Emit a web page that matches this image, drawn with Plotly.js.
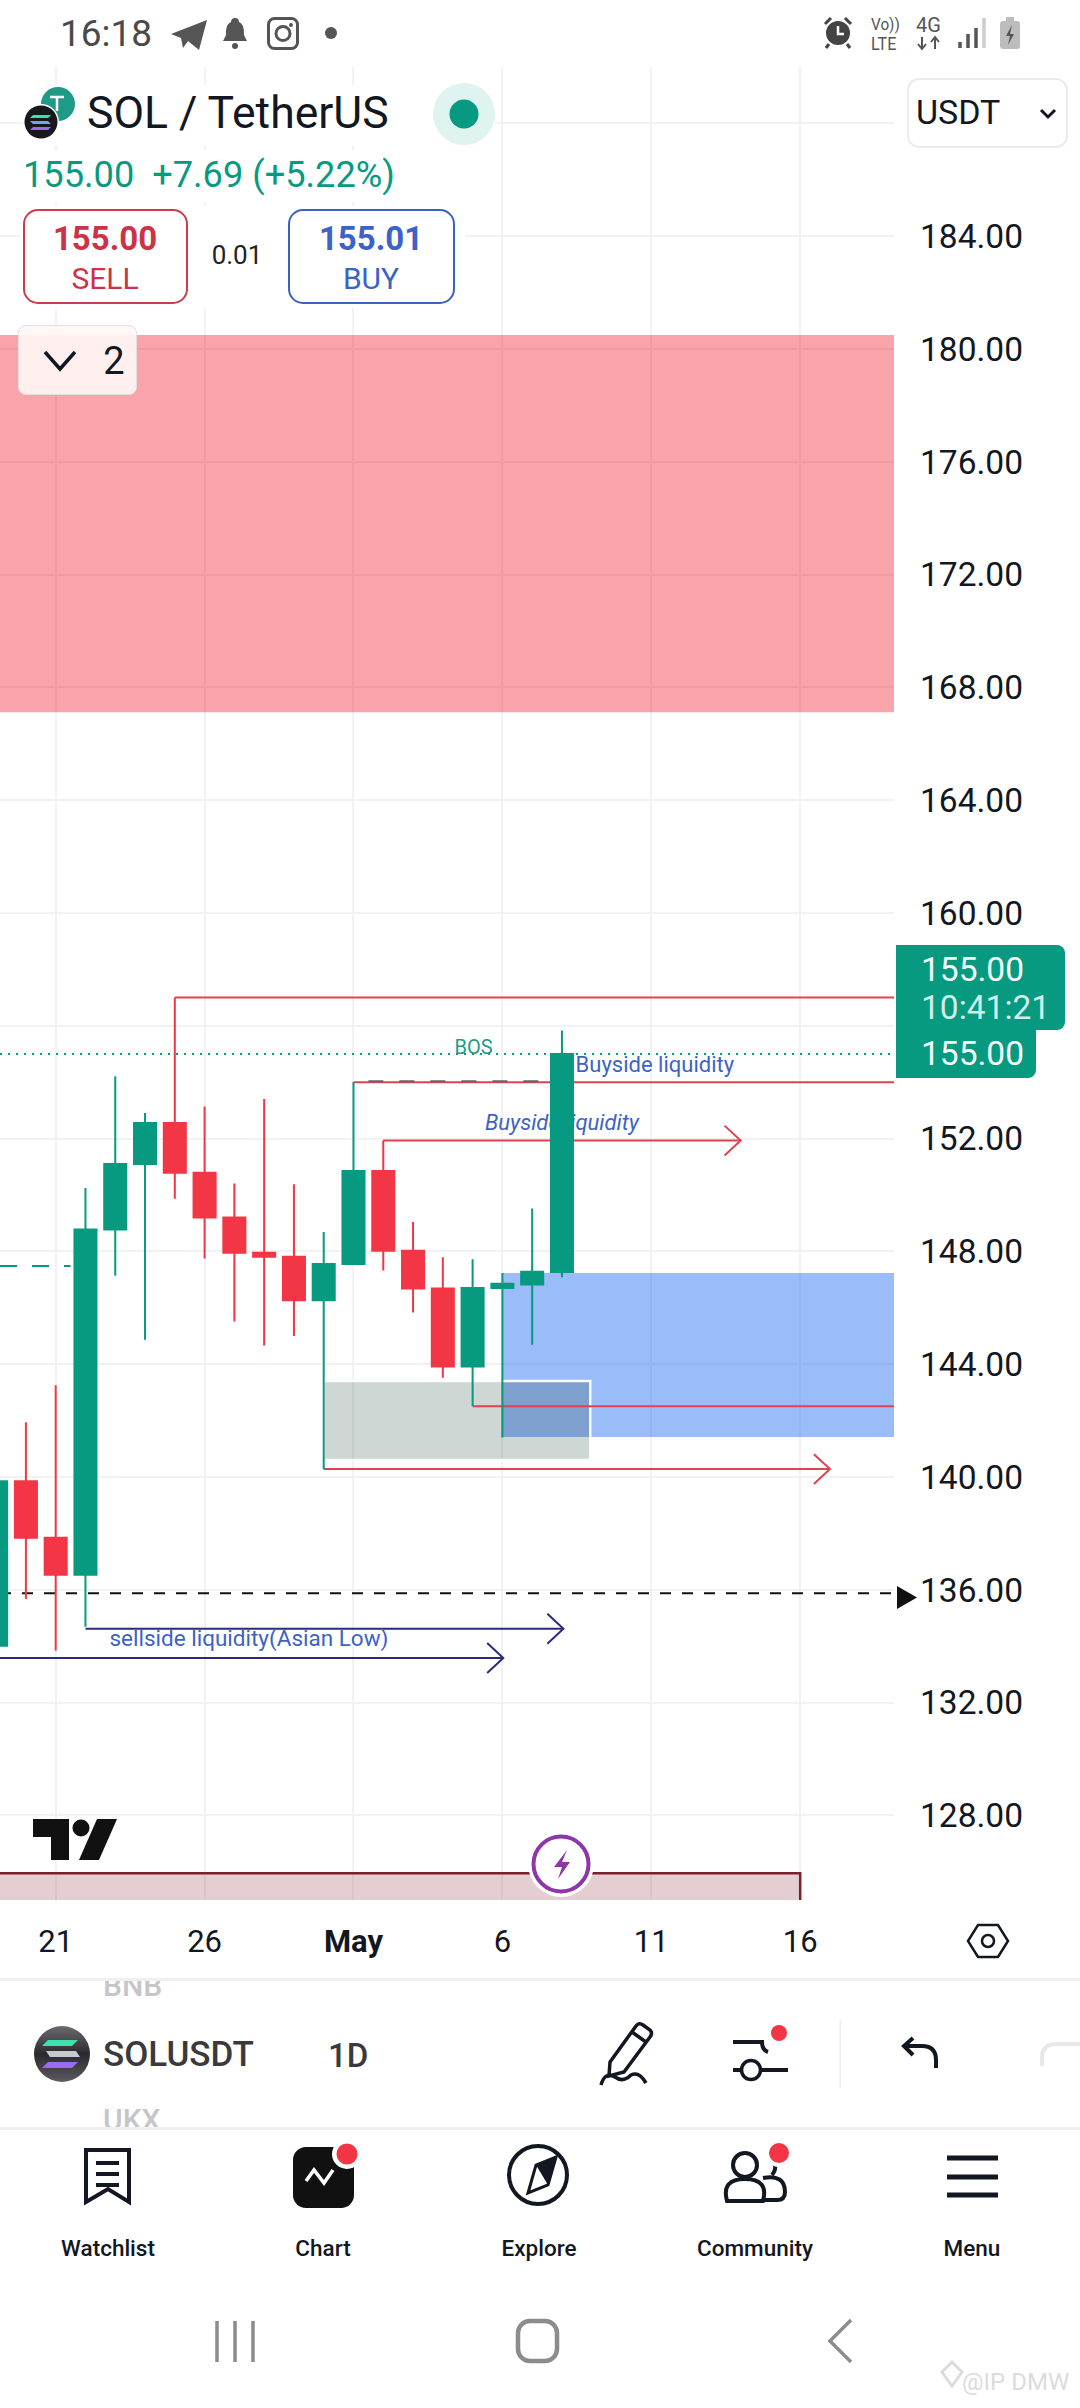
<!DOCTYPE html>
<html><head><meta charset="utf-8">
<script src="https://cdn.plot.ly/plotly-3.0.1.min.js"></script>
<style>
html,body{margin:0;padding:0;background:#fff;width:1080px;height:2408px;overflow:hidden;font-family:Roboto,sans-serif}
#chart{position:absolute;left:0;top:0;width:1080px;height:2408px}
#ui{position:absolute;left:0;top:0;width:1080px;height:2408px;pointer-events:none}
#ui svg{position:absolute;left:0;top:0}
.t{position:absolute;white-space:nowrap;line-height:1;transform:translateY(-50%)}
.c{transform:translate(-50%,-50%)}
.box{position:absolute;box-sizing:border-box}
</style></head><body>
<div id="chart"></div><div id="ui"></div>
<script>
const dates=['2025-04-19','2025-04-20','2025-04-21','2025-04-22','2025-04-23','2025-04-24','2025-04-25','2025-04-26','2025-04-27','2025-04-28','2025-04-29','2025-04-30','2025-05-01','2025-05-02','2025-05-03','2025-05-04','2025-05-05','2025-05-06','2025-05-07','2025-05-08'];
const opens =[134.02,139.85,137.85,136.53,148.78,151.10,152.55,150.79,149.20,147.95,147.81,146.27,147.55,150.85,148.02,146.68,143.92,146.70,146.83,147.27];
const highs =[140.50,141.94,143.25,150.25,154.21,152.91,157.00,153.14,150.41,153.40,150.38,148.69,154.01,151.93,149.04,147.79,147.72,147.23,149.52,155.83];
const lows  =[133.60,135.67,133.84,134.69,147.14,144.87,149.87,147.75,145.51,144.66,145.00,140.28,147.55,147.32,145.83,143.52,142.51,141.40,144.69,147.08];
const closes=[139.85,137.85,136.53,148.78,151.10,152.55,150.79,149.20,147.95,147.81,146.27,147.55,150.85,148.02,146.68,143.92,146.70,146.85,147.28,155.00];
const yTickVals=[128,132,136,140,144,148,152,156,160,164,168,172,176,180,184,188];
const yTickText=['128.00','132.00','136.00','140.00','144.00','148.00','152.00','','160.00','164.00','168.00','172.00','176.00','180.00','184.00',''];
const xTickVals=['2025-04-21','2025-04-26','2025-05-01','2025-05-06','2025-05-11','2025-05-16'];
const xTickText=['21','26','<b>May</b>','6','11','16'];
const lastPrice=155.00, countdown='10:41:21';
const symbolTitle='SOL / TetherUS', changeText='155.00  +7.69 (+5.22%)', sellPrice='155.00', buyPrice='155.01', spread='0.01';

const dayMs=864e5;
const D=(s,off)=>new Date(Date.parse(s+'T00:00:00Z')+(off||0)*dayMs).toISOString().slice(0,19).replace('T',' ');
const xStart=D('2025-04-21',-1.87), xEnd=D('2025-05-16',3.15);
const up='#089981', down='#f23645', red='#e0424f', navy='#2b2a7c', blueText='#3d63c4';

const rect=(x0,x1,y0,y1,fill,line,lw)=>({type:'rect',xref:'x',yref:'y',x0,x1,y0,y1,fillcolor:fill,line:{color:line||'rgba(0,0,0,0)',width:lw||0},layer:'between'});
const seg=(x0,x1,y,color,w,dash)=>({type:'line',xref:'x',yref:'y',x0,x1,y0:y,y1:y,line:{color,width:w,dash:dash||'solid'},layer:'between'});
const u=s=>s.replace(' ','_');
const head=(day,off,y,color)=>{const a=u(D(day,off-0.54)),b=u(D(day,off));return {type:'path',xref:'x',yref:'y',path:`M${a},${y+0.53} L${b},${y} L${a},${y-0.53}`,line:{color,width:2},layer:'between'}};

const shapes=[
 rect(xStart,xEnd,167.12,180.5,'rgba(242,54,69,0.46)'),
 rect('2025-05-06',xEnd,141.42,147.23,'rgba(41,113,240,0.47)'),
 rect('2025-04-30',D('2025-05-08',0.95),140.6,143.4,'rgba(0,40,30,0.19)','rgba(255,255,255,0.95)',2.5),
 rect(D('2025-04-10'),'2025-05-16',120,125.95,'rgba(130,30,45,0.22)','#7a1f2b',2.5),
 seg(xStart,xEnd,lastPrice,up,2,'2px,6px'),
 seg('2025-04-25',xEnd,157.0,red,2),
 seg('2025-05-01',xEnd,154.0,red,2),
 seg(D('2025-05-01',0.5),'2025-05-08',154.03,'#666',2,'15px,16px'),
 seg('2025-05-02',D('2025-05-14'),151.93,red,2),
 seg('2025-04-30',D('2025-05-17'),140.28,red,2),
 seg('2025-05-05',xEnd,142.51,red,2),
 seg(xStart,xEnd,135.88,'#111',2,'11px,11px'),
 seg(xStart,D('2025-04-22',-0.5),147.48,up,2,'17px,15px'),
 seg('2025-04-22','2025-05-08',134.62,navy,2),
 seg(D('2025-04-15'),'2025-05-06',133.58,navy,2),
 head('2025-05-14',0,151.93,red),
 head('2025-05-17',0,140.28,red),
 head('2025-05-08',0.05,134.62,navy),
 head('2025-05-06',0.03,133.58,navy)
];

const noteText=(text,day,off,y,size,color,style)=>({type:'scatter',mode:'text',x:[D(day,off)],y:[y],text:[text],textposition:'middle center',textfont:{family:'Roboto',size,color,style:style||'normal'},hoverinfo:'skip',showlegend:false,cliponaxis:false,xaxis:'x',yaxis:'y'});
const traces=[
 noteText('BOS','2025-05-05',0.03,155.18,20,'#1f9a86'),
 noteText('Buyside liquidity','2025-05-11',0.12,154.56,22,blueText),
 noteText('Buyside liquidity','2025-05-08',0,152.51,22,blueText,'italic'),
 noteText('sellside liquidity(Asian Low)','2025-04-27',0.49,134.2,22.5,blueText),
 {type:'candlestick',x:dates,open:opens,high:highs,low:lows,close:closes,xaxis:'x2',yaxis:'y2',
  increasing:{line:{color:up,width:2},fillcolor:up},decreasing:{line:{color:down,width:2},fillcolor:down},whiskerwidth:0,hoverinfo:'skip',showlegend:false}
];
const grid='#f1f2f4';
const layout={width:1080,height:2408,margin:{l:0,r:0,t:0,b:0},paper_bgcolor:'#fff',plot_bgcolor:'#fff',showlegend:false,boxgap:0.26,boxgroupgap:0,
 xaxis:{type:'date',domain:[0,894/1080],range:[xStart,xEnd],anchor:'y',tickmode:'array',tickvals:xTickVals,ticktext:xTickText,showgrid:true,gridcolor:grid,gridwidth:2,zeroline:false,showline:false,ticks:'',ticklabelstandoff:20,tickfont:{family:'Roboto',size:31,color:'#131722'},rangeslider:{visible:false}},
 yaxis:{domain:[1-1900/2408,1-67/2408],range:[125,190],side:'right',anchor:'x',tickmode:'array',tickvals:yTickVals,ticktext:yTickText,showgrid:true,gridcolor:grid,gridwidth:2,zeroline:false,showline:false,ticks:'',ticklabelstandoff:25,tickfont:{family:'Roboto',size:33.5,color:'#131722'}},
 xaxis2:{type:'date',overlaying:'x',matches:'x',visible:false,anchor:'y2',rangeslider:{visible:false}},
 yaxis2:{overlaying:'y',matches:'y',visible:false,anchor:'x2',side:'right'},
 shapes
};
Plotly.newPlot('chart',traces,layout,{staticPlot:true,displayModeBar:false});

// app chrome
const ui=document.getElementById('ui');
const tx=(s,x,y,size,color,o)=>{o=o||{};const e=document.createElement('div');e.className='t'+(o.c?' c':'');e.textContent=s;e.style.cssText+=`left:${x}px;top:${y}px;font-size:${size}px;color:${color};font-weight:${o.w||400};`+(o.css||'');ui.appendChild(e);return e};
const bx=(x,y,w,h,css)=>{const e=document.createElement('div');e.className='box';e.style.cssText=`left:${x}px;top:${y}px;width:${w}px;height:${h}px;`+css;ui.appendChild(e);return e};
// masks behind legend
bx(23,85,472,60,'background:#fff');bx(23,150,420,52,'background:#fff');bx(20,205,445,103,'background:#fff');
// price tags
bx(896,945,169,85,`background:${up};border-radius:0 8px 8px 0`);
bx(896,1030,140,48,`background:${up};border-radius:0 0 8px 0`);
tx(lastPrice.toFixed(2),921,970,33.5,'#f2fbf9');tx(countdown,921,1008,33.5,'#cfeee8');tx(lastPrice.toFixed(2),921,1054,33.5,'#f2fbf9');
// status bar
tx('16:18',60,33,37,'#4a4a4a');
tx('Vo))',871,24,17,'#555',{css:'transform:translateY(-50%) scaleX(.9);transform-origin:left'});tx('LTE',871,44,18,'#555',{css:'transform:translateY(-50%) scaleX(.9);transform-origin:left'});
tx('4G',916,25,20,'#555');
// header
tx(symbolTitle,87,113,44.5,'#131722');
tx(changeText,23,175,36.2,up,{css:'white-space:pre;'});
bx(23,209,165,95,'border:2.5px solid #cc3d4b;border-radius:15px;background:#fff');
bx(288,209,167,95,'border:2.5px solid #3b62c0;border-radius:15px;background:#fff');
tx(sellPrice,105,238,33,'#cc3346',{c:1,w:700});tx('SELL',105,279,30,'#cc3346',{c:1});
tx(buyPrice,371,238,33,'#3b62c8',{c:1,w:700});tx('BUY',371,279,30,'#3b62c8',{c:1});
tx(spread,237,255,26,'#222',{c:1});
bx(18,325,119,70,'background:rgba(255,245,245,.92);border:1.5px solid #e4e0e0;border-radius:8px');
tx('2',114,361,38,'#131722',{c:1});
bx(907,78,161,70,'background:#fff;border:2px solid #ebebeb;border-radius:12px');
tx('USDT',916,112,34,'#131722');
// toolbar
tx('BNB',103,1986,30,'#c6c6ca',{w:500,css:'clip-path:inset(10px 0 0 0);'});
tx('UKX',103,2120,30,'#c6c6ca',{w:500,css:'clip-path:inset(0 0 8px 0);'});
tx('SOLUSDT',103,2054,35,'#3a3a3e',{w:500});
tx('1D',328,2055,33,'#3a3a3e',{w:500});
[['Watchlist',108],['Chart',323],['Explore',539],['Community',755],['Menu',972]].forEach(a=>tx(a[0],a[1],2248,22.5,'#131722',{c:1,w:500}));
tx('@IP DMW',962,2382,24,'#dcdcdc');

const svg=`<svg width="1080" height="2408" viewBox="0 0 1080 2408" xmlns="http://www.w3.org/2000/svg">
<defs><linearGradient id="solg" x1="0" y1="0" x2="0" y2="1"><stop offset="0" stop-color="#6a6a70"/><stop offset=".5" stop-color="#2a2a2e"/><stop offset="1" stop-color="#5a5a60"/></linearGradient></defs>
<!-- status icons -->
<path d="M171 34 L207 20 L199 50 L188 41 L183 48 L181 38 Z" fill="#555"/>
<path d="M235 18 c3 0 4 2 4 4 c5 2 5 8 5 13 l3 6 h-24 l3 -6 c0 -5 0 -11 5 -13 c0 -2 1 -4 4 -4z" fill="#555"/><circle cx="235" cy="46" r="3" fill="#555"/>
<rect x="268.500" y="18.500" width="29" height="30" rx="6" fill="none" stroke="#555" stroke-width="3"/><circle cx="283" cy="33.500" r="7" fill="none" stroke="#555" stroke-width="3"/><circle cx="291" cy="25" r="2" fill="#555"/>
<circle cx="331" cy="33" r="6" fill="#555"/>
<circle cx="838" cy="33" r="12" fill="#444"/><path d="M838 26 v8 h6" stroke="#fff" stroke-width="2.500" fill="none"/><path d="M825 24 l6 -6 M851 24 l-6 -6 M829 44 l-3 4 M847 44 l3 4" stroke="#444" stroke-width="3"/>
<path d="M922 37 v12 M918 44 l4 5 l4 -5 M935 49 v-12 M931 42 l4 -5 l4 5" stroke="#555" stroke-width="2" fill="none"/>
<path d="M960 48 v-6 M968 48 v-14 M976 48 v-20" stroke="#555" stroke-width="3.500"/><path d="M984 48 v-30" stroke="#ccc" stroke-width="3.500"/>
<rect x="1000" y="21" width="20" height="28" rx="3" fill="#bdbdbd"/><rect x="1006" y="17" width="8" height="4" fill="#bdbdbd"/><path d="M1012 25 l-6 11 h4 l-2 9 l6 -11 h-4z" fill="#555"/>
<!-- logos -->
<circle cx="58" cy="104" r="17" fill="#1f9a86"/><path d="M50 97 h14 M57 97 v14" stroke="#fff" stroke-width="2.500"/>
<circle cx="41" cy="122" r="18" fill="#fff"/><circle cx="41" cy="122" r="16.500" fill="#17171c"/>
<path d="M33 115 h18 l-3 3 h-18z" fill="#3fe0b0"/><path d="M30 121 h18 l3 3 h-18z" fill="#6fa8e0"/><path d="M33 127 h18 l-3 3 h-18z" fill="#9a6af0"/>
<circle cx="464" cy="114" r="31" fill="#dff3f0"/><circle cx="464" cy="114" r="14.500" fill="${up}"/>
<path d="M1041 110 l7 7 l7 -7" stroke="#131722" stroke-width="3" fill="none"/>
<path d="M45 352 l15 17 l15 -17" stroke="#131722" stroke-width="3.500" fill="none"/>
<path d="M897 1586 L917 1597.500 L897 1609 Z" fill="#111"/>
<!-- TV logo -->
<path d="M33 1819 h36 v41 h-18 v-23 h-18z" fill="#111"/><circle cx="81" cy="1828" r="8.500" fill="#111"/><path d="M97 1819 h20 l-18 41 h-20z" fill="#111"/>
<circle cx="561" cy="1864" r="33" fill="#fff"/><circle cx="561" cy="1864" r="27.500" fill="#fff" stroke="#8e35a8" stroke-width="4"/>
<path d="M567 1850 l-13 17 h8 l-4 12 l12 -17 h-8z" fill="#8e35a8"/>
<!-- settings hexagon -->
<path d="M978 1925 h20 l10 16 l-10 16 h-20 l-10 -16z" fill="none" stroke="#131722" stroke-width="2.500"/><circle cx="988" cy="1941" r="6" fill="none" stroke="#131722" stroke-width="2.500"/>
<!-- separators -->
<rect x="0" y="1978" width="1080" height="3" fill="#f0f0f0"/><rect x="0" y="2127" width="1080" height="3" fill="#f0f0f0"/>
<circle cx="62" cy="2054" r="28" fill="url(#solg)"/><path d="M48 2040 h30 l-6 6 h-30z" fill="#3fe0b0"/><path d="M46 2051 h30 l4 6 h-30z" fill="#c8c8d0"/><path d="M48 2062 h30 l-6 6 h-30z" fill="#9a6af0"/>
<!-- toolbar icons -->
<path d="M610 2062 L636 2026 q3 -4 7 -1 l7 5 q3 3 0 7 L624 2072 L609 2076 Z M632 2032 l14 10" fill="none" stroke="#131722" stroke-width="3.500"/><path d="M601 2085 q4 -14 14 -8 q8 6 16 -2 q8 -4 15 8" fill="none" stroke="#131722" stroke-width="3.500"/>
<path d="M733 2042 h25 M768 2052 q-6 -2 -6 -10 h-6 M733 2070 h8 M761 2070 h27" stroke="#131722" stroke-width="4" fill="none"/><circle cx="751" cy="2070" r="9.500" fill="none" stroke="#131722" stroke-width="3.500"/><circle cx="779" cy="2033" r="8" fill="#f23645"/>
<rect x="839.500" y="2020" width="1.500" height="68" fill="#eee"/>
<path d="M936 2068 v-8 q0 -14 -14 -14 h-18 M913 2038 l-9 8 l9 9" fill="none" stroke="#131722" stroke-width="4"/>
<path d="M1042 2066 v-8 q0 -14 14 -14 h24" fill="none" stroke="#e8e8e8" stroke-width="4"/>
<!-- nav icons -->
<path d="M86 2150 h43 v52 l-21 -13 l-22 13z" fill="none" stroke="#131722" stroke-width="4"/><path d="M96 2163 h23 M96 2174 h23 M96 2185 h23" stroke="#131722" stroke-width="4"/>
<rect x="293" y="2147" width="61" height="61" rx="13" fill="#111"/><circle cx="347" cy="2154" r="15" fill="#fff"/><circle cx="347" cy="2154" r="10.500" fill="#f23645"/><path d="M306 2181 l8 -11 l10 13 l9 -13" fill="none" stroke="#fff" stroke-width="3.500"/>
<circle cx="538" cy="2175" r="29" fill="none" stroke="#131722" stroke-width="4"/><path d="M556 2157 l-8 28 l-20 8 l8 -28z" fill="none" stroke="#131722" stroke-width="3"/><path d="M556 2157 l-8 28 l-12 -20z" fill="#131722"/>
<circle cx="745" cy="2165" r="12" fill="none" stroke="#131722" stroke-width="4"/><path d="M727 2201 q-6 -22 18 -22 q24 0 18 22z" fill="none" stroke="#131722" stroke-width="4"/><path d="M768 2157 q12 8 4 18 M763 2178 q22 -4 22 14 q0 8 -8 8 h-12" fill="none" stroke="#131722" stroke-width="4"/><circle cx="779" cy="2153" r="14" fill="#fff"/><circle cx="779" cy="2153" r="10" fill="#f23645"/>
<path d="M947 2158 h51 M947 2177 h51 M947 2195 h51" stroke="#131722" stroke-width="5"/>
<!-- android nav -->
<path d="M217 2321 v41 M235 2321 v41 M253 2321 v41" stroke="#8c8c8c" stroke-width="3.500"/>
<rect x="518" y="2321" width="39" height="40" rx="12" fill="none" stroke="#8c8c8c" stroke-width="4.500"/>
<path d="M851 2320 l-21 21 l21 21" fill="none" stroke="#8c8c8c" stroke-width="3.500"/>
<path d="M942 2372 l10 -10 l10 10 l-10 14z" fill="none" stroke="#dcdcdc" stroke-width="3"/>
</svg>`;
const holder=document.createElement('div');holder.innerHTML=svg;ui.appendChild(holder);
</script>
</body></html>
